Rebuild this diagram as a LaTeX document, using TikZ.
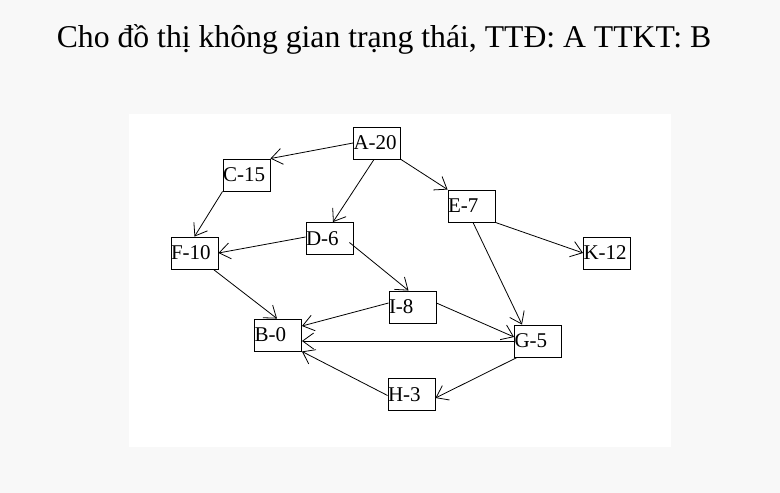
\documentclass[tikz,border=0pt]{standalone}
\usepackage{fontspec}
\setmainfont{Liberation Serif}
\usetikzlibrary{arrows.meta}
\definecolor{pagebg}{RGB}{248,248,248}
\begin{document}
\begin{tikzpicture}[x=1pt,y=-1pt,
  statebox/.style={draw=black, line width=0.9pt, fill=white, inner sep=0pt,
    minimum height=32pt, text width=47pt, align=left, font=\fontsize{21}{23}\selectfont},
  edge/.style={line width=0.8pt, -{Straight Barb[length=11pt,width=16pt,line width=0.8pt]}}]
\useasboundingbox (0,0) rectangle (780,493);
\fill[pagebg] (0,0) rectangle (780,493);
\fill[white] (129,114) rectangle (671,447);
\node[anchor=base, font=\fontsize{31.7}{34}\selectfont] (title) at (384,47) {Cho đồ thị không gian trạng thái, TTĐ: A TTKT: B};

\node[statebox] (A) at (377,143) {A-20};
\node[statebox] (C) at (246.5,175) {C-15};
\node[statebox] (D) at (329.5,238.5) {D-6};
\node[statebox] (F) at (194.5,253) {F-10};
\node[statebox] (E) at (471.5,206) {E-7};
\node[statebox] (K) at (607,253) {K-12};
\node[statebox] (I) at (412.5,307) {I-8};
\node[statebox] (B) at (278,335) {B-0};
\node[statebox] (G) at (538,341) {G-5};
\node[statebox] (H) at (411.5,394.5) {H-3};

\draw[edge] (A.west) -- (C.north east);
\draw[edge] ([xshift=-3pt]A.south) -- ([xshift=3.5pt]D.north);
\draw[edge] (A.south east) -- (E.north west);
\draw[edge] (C.south west) -- (F.north);
\draw[edge] ([yshift=1.5pt]D.west) -- (F.east);
\draw[edge] ([xshift=-4pt,yshift=-4pt]D.east) -- ([xshift=-4pt]I.north);
\draw[edge] (E.south east) -- (K.west);
\draw[edge] ([xshift=1.5pt]E.south) -- ([xshift=-16pt]G.north);
\draw[edge] ([xshift=-5pt]F.south east) -- ([xshift=-1pt]B.north);
\draw[edge] ([yshift=4pt]I.west) -- ([yshift=9pt]B.east);
\draw[edge] ([yshift=4pt]I.east) -- ([yshift=4pt]G.west);
\draw[edge] (G.west) -- ([yshift=-6pt]B.east);
\draw[edge] ([xshift=3pt]G.south west) -- ([yshift=-3.5pt]H.east);
\draw[edge] ([yshift=-1pt]H.west) -- (B.south east);
\end{tikzpicture}
\end{document}
